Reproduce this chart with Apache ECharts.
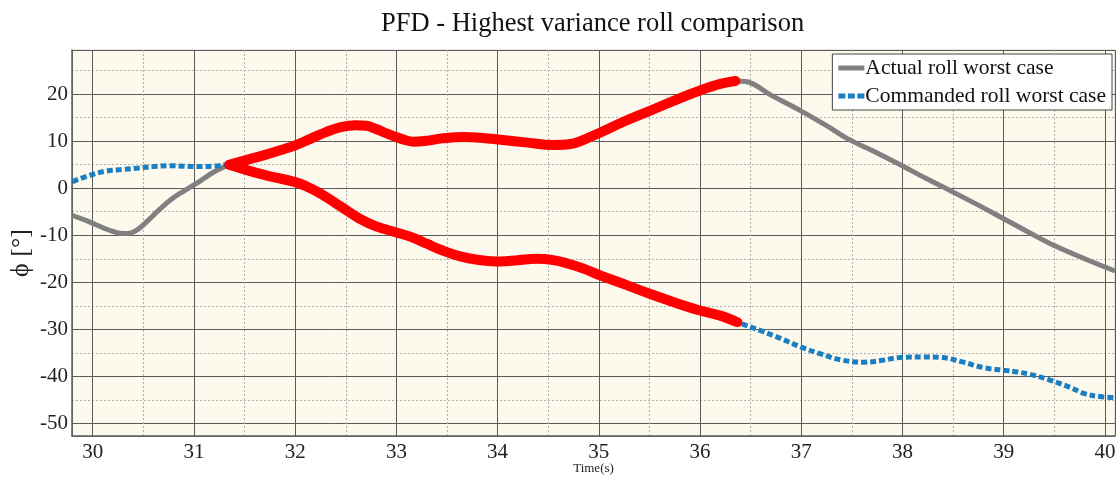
<!DOCTYPE html>
<html>
<head>
<meta charset="utf-8">
<script src="https://cdn.jsdelivr.net/npm/echarts@6/dist/echarts.min.js"></script>
<style>
html,body{margin:0;padding:0;background:#fff;}
#chart{width:1117px;height:478px;}
</style>
</head>
<body>
<div id="chart"></div>
<script>
// ---- data ----
const titleText = 'PFD - Highest variance roll comparison';
const seriesNames = ['Actual roll worst case', 'Commanded roll worst case'];

const actualTime = [29.8,29.95,30.1,30.2,30.3,30.38,30.45,30.55,30.65,30.78,30.9,31.0,31.1,31.2,31.35,31.5,31.72,31.9,32.0,32.15,32.31,32.45,32.6,32.7,32.8,32.91,33.05,33.17,33.3,33.45,33.67,33.85,34.03,34.3,34.55,34.72,34.85,35.02,35.25,35.51,35.75,36.0,36.2,36.35,36.45,36.7,37.0,37.25,37.46,37.75,38.02,38.25,38.48,38.75,39.0,39.25,39.5,39.8,40.1];
const actualRoll = [-5.8,-7.0,-8.4,-9.2,-9.65,-9.5,-8.7,-6.8,-4.7,-2.3,-0.6,0.7,2.1,3.5,5.0,5.9,7.2,8.4,9.1,10.5,12.0,13.0,13.4,13.3,12.6,11.6,10.5,9.9,10.1,10.6,10.9,10.7,10.3,9.7,9.2,9.4,10.3,11.9,14.2,16.5,18.7,20.8,22.2,22.8,22.7,19.8,16.4,13.3,10.5,7.5,4.5,1.9,-0.6,-3.6,-6.5,-9.4,-12.2,-15.0,-17.6];

const commandedTime = [29.8,29.95,30.12,30.3,30.45,30.6,30.75,30.9,31.05,31.2,31.35,31.5,31.72,32.0,32.15,32.31,32.45,32.64,32.8,33.0,33.15,33.3,33.45,33.63,33.8,34.03,34.2,34.39,34.55,34.69,34.85,35.02,35.25,35.51,35.75,36.0,36.2,36.37,36.6,36.8,37.0,37.2,37.39,37.62,37.8,37.98,38.2,38.38,38.6,38.81,39.0,39.14,39.3,39.47,39.65,39.8,39.95,40.1];
const commandedRoll = [1.4,2.6,3.6,4.0,4.3,4.6,4.8,4.7,4.6,4.7,5.0,4.0,2.7,1.3,0.0,-1.9,-3.9,-6.5,-8.1,-9.4,-10.4,-11.8,-13.2,-14.5,-15.2,-15.6,-15.3,-15.0,-15.3,-16.0,-17.1,-18.6,-20.4,-22.5,-24.3,-26.0,-27.1,-28.5,-30.3,-32.0,-33.8,-35.3,-36.5,-37.0,-36.6,-36.0,-35.9,-36.0,-37.0,-38.2,-38.7,-39.1,-39.8,-40.9,-42.3,-43.7,-44.3,-44.5];

// highlighted (red) time window
const highlightWindow = [31.35, 36.37];

// axis extents
const xRange = [29.795, 40.1];
const yRange = [-52.7, 29.4];

// ---- build ----
function pairs(t, v) { return t.map((x, i) => [x, v[i]]); }
function windowed(t, v) {
  return pairs(t, v).filter(p => p[0] >= highlightWindow[0] - 1e-9 && p[0] <= highlightWindow[1] + 1e-9);
}

const serif = '"Liberation Serif","DejaVu Serif",serif';
const chart = echarts.init(document.getElementById('chart'), null, {renderer: 'canvas'});

chart.setOption({
  animation: false,
  backgroundColor: '#ffffff',
  title: {
    text: titleText,
    left: 376,
    top: 6,
    textStyle: {fontFamily: serif, fontSize: 26.5, fontWeight: 'normal', color: '#111'}
  },
  legend: {
    right: 5,
    top: 54,
    orient: 'vertical',
    backgroundColor: '#ffffff',
    borderColor: '#444',
    borderWidth: 1,
    borderRadius: 0,
    padding: [3, 6, 3, 6],
    itemGap: 6,
    itemWidth: 26,
    itemHeight: 5,
    textStyle: {fontFamily: serif, fontSize: 21.5, color: '#111', padding: [0, 0, 0, -4]},
    data: [
      {name: seriesNames[0], icon: 'rect', itemStyle: {color: '#808080'}},
      {name: seriesNames[1], icon: 'path://M0,0h7v5h-7z M9.5,0h7v5h-7z M19,0h7v5h-7z', itemStyle: {color: '#1a7ec2'}}
    ]
  },
  grid: {
    left: 72, right: 2, top: 50, bottom: 42,
    outerBoundsMode: 'none',
    containLabel: false,
    show: true,
    backgroundColor: '#fef9ed',
    borderColor: '#c8c8c8',
    borderWidth: 1
  },
  xAxis: {
    type: 'value',
    min: xRange[0], max: xRange[1],
    splitNumber: 10, minInterval: 1, maxInterval: 1,
    name: 'Time(s)',
    nameLocation: 'middle',
    nameGap: 26,
    nameMoveOverlap: false,
    nameTextStyle: {fontFamily: serif, fontSize: 13, color: '#222'},
    axisLine: {show: true, onZero: false, lineStyle: {color: '#666', width: 1.5}},
    axisTick: {show: true, inside: true, length: 5, lineStyle: {color: '#555'}},
    axisLabel: {fontFamily: serif, fontSize: 21, color: '#222', margin: 6, showMinLabel: false, showMaxLabel: false},
    splitLine: {show: true, lineStyle: {color: '#5a5a5a', width: 1}},
    minorTick: {show: false, splitNumber: 2},
    minorSplitLine: {show: true, lineStyle: {color: '#b0b0b0', width: 1, type: [2, 2]}}
  },
  yAxis: {
    type: 'value',
    min: yRange[0], max: yRange[1],
    splitNumber: 8, minInterval: 10, maxInterval: 10,
    name: 'ϕ [°]',
    nameLocation: 'middle',
    nameGap: 38,
    nameMoveOverlap: false,
    nameTextStyle: {fontFamily: serif, fontSize: 26, color: '#222', padding: [0, 20, 0, 0]},
    axisLine: {show: true, onZero: false, lineStyle: {color: '#666', width: 1.5}},
    axisTick: {show: true, inside: true, length: 5, lineStyle: {color: '#555'}},
    axisLabel: {fontFamily: serif, fontSize: 21, color: '#222', margin: 4, showMinLabel: false, showMaxLabel: false},
    splitLine: {show: true, lineStyle: {color: '#5a5a5a', width: 1}},
    minorTick: {show: false, splitNumber: 2},
    minorSplitLine: {show: true, lineStyle: {color: '#b0b0b0', width: 1, type: [2, 2]}}
  },
  series: [
    {
      name: seriesNames[0],
      type: 'line',
      data: pairs(actualTime, actualRoll),
      symbol: 'none',
      smooth: 0.4,
      color: '#808080',
      lineStyle: {color: '#808080', width: 5},
      z: 2
    },
    {
      name: seriesNames[1],
      type: 'line',
      data: pairs(commandedTime, commandedRoll),
      symbol: 'none',
      smooth: 0.4,
      color: '#1a7ec2',
      lineStyle: {color: '#1a7ec2', width: 5, type: [6, 3], cap: 'butt'},
      z: 2
    },
    {
      name: 'highlight-actual',
      type: 'line',
      data: windowed(actualTime, actualRoll),
      symbol: 'none',
      smooth: 0.4,
      lineStyle: {color: '#ff0000', width: 10, cap: 'round'},
      z: 3
    },
    {
      name: 'highlight-commanded',
      type: 'line',
      data: windowed(commandedTime, commandedRoll),
      symbol: 'none',
      smooth: 0.4,
      lineStyle: {color: '#ff0000', width: 10, cap: 'round'},
      z: 3
    }
  ]
});
</script>
</body>
</html>
